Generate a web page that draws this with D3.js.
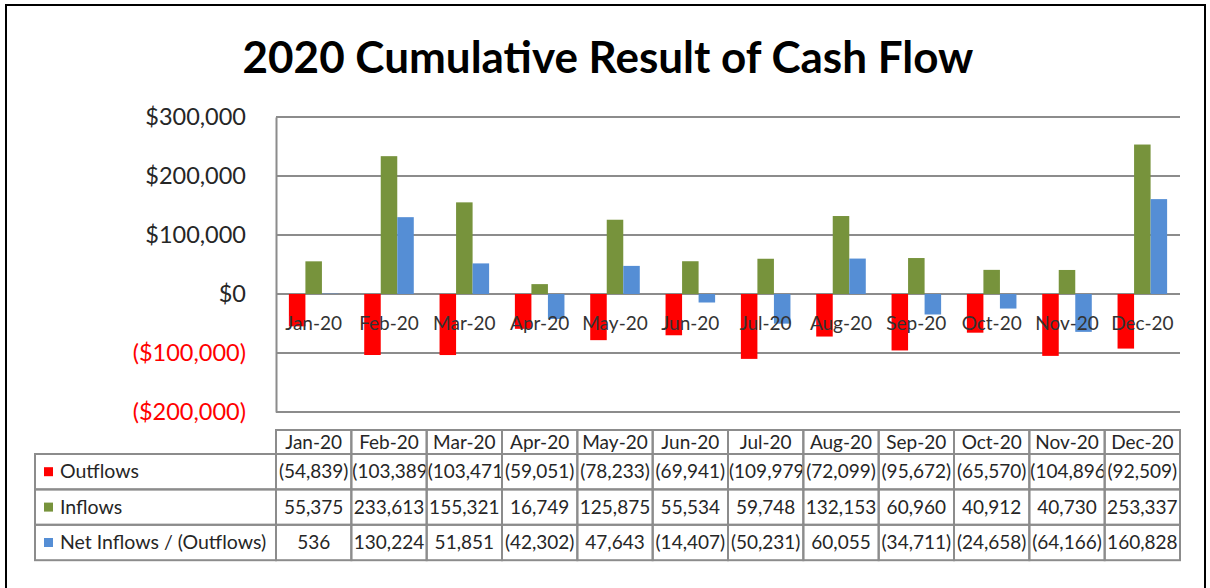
<!DOCTYPE html>
<html>
<head>
<meta charset="utf-8">
<script src="https://cdn.jsdelivr.net/npm/d3@7"></script>
<style>
  body { margin: 0; background: #fff; }
  svg text { font-family: Lato, "Open Sans", sans-serif; }
</style>
</head>
<body>
<div id="chart"></div>
<script>
// podatki
const months = ["Jan-20", "Feb-20", "Mar-20", "Apr-20", "May-20", "Jun-20",
                "Jul-20", "Aug-20", "Sep-20", "Oct-20", "Nov-20", "Dec-20"];
const seriesNames = ["Outflows", "Inflows", "Net Inflows / (Outflows)"];
const outflows = [-54839, -103389, -103471, -59051, -78233, -69941, -109979, -72099, -95672, -65570, -104896, -92509];
const inflows = [55375, 233613, 155321, 16749, 125875, 55534, 59748, 132153, 60960, 40912, 40730, 253337];
const netFlows = [536, 130224, 51851, -42302, 47643, -14407, -50231, 60055, -34711, -24658, -64166, 160828];
const yTicks = [-200000, -100000, 0, 100000, 200000, 300000];
const colors = ["#FF0000", "#77933C", "#558ED5"];

const seriesValues = [outflows, inflows, netFlows];

const width = 1210, height = 588;
const plot = { left: 276, right: 1180, top: 117, bottom: 412 };

const svg = d3.select("#chart").append("svg")
    .attr("width", width)
    .attr("height", height);

// okvir
svg.append("rect")
    .attr("x", 6).attr("y", 5)
    .attr("width", 1199).attr("height", 600)
    .attr("fill", "#fff")
    .attr("stroke", "#000")
    .attr("stroke-width", 2);

// naslov
svg.append("text")
    .attr("x", 608).attr("y", 73)
    .attr("text-anchor", "middle")
    .style("font-size", "44px")
    .style("font-weight", "bold")
    .attr("fill", "#000")
    .text("2020 Cumulative Result of Cash Flow");

// skale
const x0 = d3.scaleBand()
    .domain(months)
    .range([plot.left, plot.right]);

const x1 = d3.scaleBand()
    .domain(seriesNames)
    .range([0, x0.bandwidth()])
    .paddingOuter(0.78);

const y = d3.scaleLinear()
    .domain([-200000, 300000])
    .range([plot.bottom, plot.top]);

const fmtNum = d3.format(",");
const fmtMoney = v => v < 0 ? `($${fmtNum(-v)})` : `$${fmtNum(v)}`;
const fmtCell = v => v < 0 ? `(${fmtNum(-v)})` : fmtNum(v);

// mreža
svg.append("g")
    .selectAll("line")
    .data(yTicks)
    .enter()
    .append("line")
    .attr("x1", plot.left).attr("x2", plot.right)
    .attr("y1", d => y(d)).attr("y2", d => y(d))
    .attr("stroke", "#8c8c8c")
    .attr("stroke-width", 2);

// y os
const yAxis = svg.append("g")
    .attr("transform", `translate(${plot.left},0)`)
    .call(d3.axisLeft(y).tickValues(yTicks).tickFormat(fmtMoney).tickSize(0).tickPadding(30));
yAxis.select(".domain")
    .attr("stroke", "#8c8c8c")
    .attr("stroke-width", 2);
yAxis.selectAll("text")
    .style("font-size", "23.5px")
    .attr("fill", d => d < 0 ? "#FF0000" : "#262626");

// stolpci
const groups = svg.append("g")
    .selectAll("g")
    .data(months)
    .enter()
    .append("g")
    .attr("transform", m => `translate(${x0(m)},0)`);

groups.selectAll("rect")
    .data((m, i) => seriesNames.map((s, k) => ({ series: s, k: k, value: seriesValues[k][i] })))
    .enter()
    .append("rect")
    .attr("x", d => x1(d.series))
    .attr("width", x1.bandwidth())
    .attr("y", d => y(Math.max(0, d.value)))
    .attr("height", d => Math.abs(y(d.value) - y(0)))
    .attr("fill", d => colors[d.k]);

// oznake mesecev v grafu
svg.append("g")
    .selectAll("text")
    .data(months)
    .enter()
    .append("text")
    .attr("x", m => x0(m) + x0.bandwidth() / 2)
    .attr("y", y(0) + 36)
    .attr("text-anchor", "middle")
    .style("font-size", "19px")
    .attr("fill", "#333")
    .text(m => m);

// tabela
const headTop = 430, headBottom = 454;
const rowH = 35.4;
const legendLeft = 35;
const tableStroke = "#8c8c8c";
const tableFont = "19px";

const table = svg.append("g");

// glava
table.selectAll(".head")
    .data(months)
    .enter()
    .append("rect")
    .attr("x", m => x0(m))
    .attr("y", headTop)
    .attr("width", x0.bandwidth())
    .attr("height", headBottom - headTop)
    .attr("fill", "none")
    .attr("stroke", tableStroke)
    .attr("stroke-width", 2);

table.selectAll(".headText")
    .data(months)
    .enter()
    .append("text")
    .attr("x", m => x0(m) + x0.bandwidth() / 2)
    .attr("y", headTop + 19)
    .attr("text-anchor", "middle")
    .style("font-size", tableFont)
    .attr("fill", "#262626")
    .text(m => m);

// vrstice
const defs = svg.append("defs");
seriesNames.forEach((s, k) => {
    const top = headBottom + k * rowH;

    table.append("rect")
        .attr("x", legendLeft)
        .attr("y", top)
        .attr("width", plot.left - legendLeft)
        .attr("height", rowH)
        .attr("fill", "none")
        .attr("stroke", tableStroke)
        .attr("stroke-width", 2);

    table.append("rect")
        .attr("x", 44)
        .attr("y", top + rowH / 2 - 4.5)
        .attr("width", 9).attr("height", 9)
        .attr("fill", colors[k]);

    table.append("text")
        .attr("x", 60)
        .attr("y", top + rowH / 2 + 6.5)
        .style("font-size", "19.5px")
        .attr("fill", "#262626")
        .text(s);

    months.forEach((m, i) => {
        const id = `clip-${k}-${i}`;
        defs.append("clipPath").attr("id", id)
            .append("rect")
            .attr("x", x0(m) + 1).attr("y", top)
            .attr("width", x0.bandwidth() - 2).attr("height", rowH);

        table.append("rect")
            .attr("x", x0(m))
            .attr("y", top)
            .attr("width", x0.bandwidth())
            .attr("height", rowH)
            .attr("fill", "none")
            .attr("stroke", tableStroke)
            .attr("stroke-width", 2);

        const v = seriesValues[k][i];
        const txt = table.append("text")
            .attr("clip-path", `url(#${id})`)
            .attr("y", top + rowH / 2 + 6.5)
            .style("font-size", tableFont)
            .attr("fill", "#262626")
            .text(fmtCell(v));
        // predolgo besedilo se poravna levo in odreže
        const w = txt.node().getComputedTextLength();
        if (w > x0.bandwidth() - 2) {
            txt.attr("x", x0(m) + 1).attr("text-anchor", "start");
        } else {
            txt.attr("x", x0(m) + x0.bandwidth() / 2).attr("text-anchor", "middle");
        }
    });
});
</script>
</body>
</html>
